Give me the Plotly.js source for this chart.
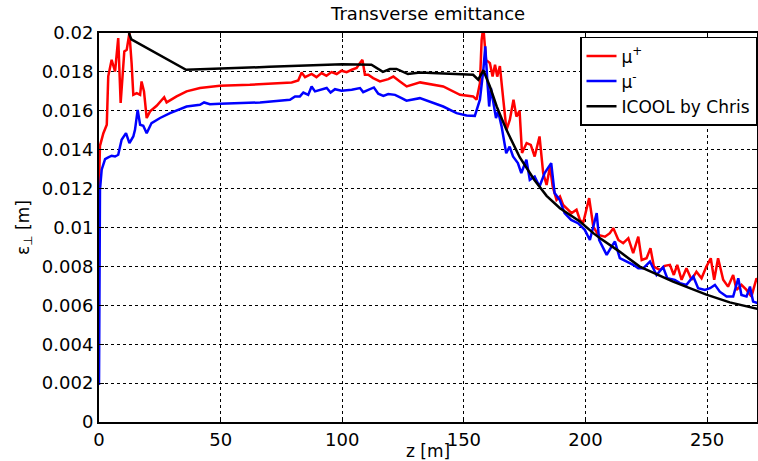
<!DOCTYPE html>
<html>
<head>
<meta charset="utf-8">
<script src="https://cdn.plot.ly/plotly-3.0.1.min.js"></script>
<style>html,body{margin:0;padding:0;background:#fff;}#chart{width:758px;height:461px;}</style>
</head>
<body>
<div id="chart"></div>
<script>
// ---- data (z in m, emittance in m) ----
const muPlusZ = [0, 0.4, 1.8, 3.2, 3.8, 5.2, 6.6, 7.9, 8.9, 10.4, 11.4, 12.5, 13.4, 14.1, 15.5, 16.9, 17.5, 18.5, 19.6, 21, 23.7, 25.1, 26.8, 27.8, 31.9, 36, 41.5, 49.7, 62, 79.2, 81.9, 83.3, 84.7, 87.4, 89.4, 91.5, 93.5, 95.6, 97.7, 99.7, 101.8, 103.9, 105.9, 107.3, 108.3, 109.3, 110.7, 112.7, 115.5, 118.9, 121, 123.7, 126.5, 132, 141.5, 148.4, 153.8, 155.2, 156.6, 157.3, 158, 159.1, 160.7, 161.8, 162.8, 163.7, 164.8, 166.2, 167.5, 168.9, 170.4, 171.6, 172.9, 173.9, 175.8, 177.5, 179.1, 181.1, 182.6, 184, 185.4, 186.5, 188.1, 189.5, 190.8, 194.3, 196.3, 197.7, 199, 201.5, 203.2, 205.2, 208, 210, 211.4, 213.5, 215.5, 217.6, 219.6, 221.7, 223.1, 225.1, 226.7, 228.1, 230.6, 232.6, 234.7, 236.3, 237.7, 239.5, 241.5, 243.6, 245.6, 247.7, 249.7, 251.5, 252.9, 254.5, 256.6, 258.6, 260.7, 262.1, 264.1, 266.2, 268.2, 270.3, 271];
const muPlusEps = [0.0121, 0.0142, 0.01485, 0.01528, 0.01777, 0.01862, 0.01802, 0.01974, 0.0164, 0.01905, 0.01914, 0.0200, 0.01845, 0.01682, 0.01691, 0.01682, 0.01751, 0.0170, 0.01563, 0.01597, 0.01626, 0.01648, 0.0167, 0.01643, 0.01674, 0.0170, 0.01717, 0.01729, 0.01734, 0.01746, 0.01756, 0.01797, 0.01773, 0.0179, 0.01773, 0.01794, 0.0178, 0.01799, 0.01789, 0.01806, 0.01799, 0.01811, 0.0182, 0.01846, 0.01862, 0.01785, 0.01785, 0.01768, 0.01751, 0.01763, 0.01776, 0.01751, 0.01725, 0.01746, 0.01725, 0.01682, 0.01674, 0.01657, 0.01742, 0.01965, 0.0203, 0.01862, 0.01845, 0.01776, 0.01837, 0.01776, 0.0183, 0.01657, 0.01502, 0.01554, 0.01657, 0.0157, 0.0160, 0.01383, 0.01434, 0.01425, 0.01365, 0.01468, 0.0128, 0.01219, 0.01314, 0.01211, 0.01142, 0.01159, 0.01116, 0.01074, 0.01091, 0.01039, 0.01022, 0.01151, 0.01005, 0.00962, 0.00953, 0.00971, 0.00997, 0.00936, 0.00919, 0.00945, 0.00868, 0.00953, 0.00833, 0.00842, 0.00894, 0.00799, 0.00782, 0.00803, 0.00808, 0.00756, 0.00808, 0.00731, 0.0079, 0.00731, 0.00773, 0.00739, 0.00799, 0.00842, 0.00731, 0.00842, 0.00731, 0.00696, 0.00756, 0.00679, 0.00705, 0.00679, 0.00645, 0.00739, 0.0072];

const muMinusZ = [0, 0.4, 1.1, 2.5, 3.8, 5.2, 6.6, 7.9, 9.3, 11.1, 12.5, 14.1, 14.8, 15.9, 16.9, 18.2, 19.6, 21.6, 25.1, 29.2, 36, 41.5, 43.2, 45.6, 49.7, 66.2, 78.5, 80.6, 82.6, 84, 86, 87.4, 88.8, 90.8, 93.6, 95.2, 97, 99.7, 103.9, 107.3, 108.6, 110.7, 113, 114.8, 116.9, 118.9, 121.7, 124.4, 126.4, 131.9, 136, 141.5, 147, 151.1, 154.5, 156.6, 158, 158.8, 159.6, 160.4, 161.1, 162.1, 163.2, 164.1, 165.5, 167.4, 168.8, 170.2, 172.2, 173.6, 175.7, 177.1, 179.1, 181.1, 183.2, 185.9, 187.3, 189.4, 191.4, 194.1, 196.9, 199.7, 201.8, 204.6, 205.6, 207.3, 208.7, 210.7, 212.1, 214.1, 216.9, 219.6, 221.7, 223.7, 226.5, 229.2, 231.9, 233.6, 236.7, 238.8, 241.5, 244.3, 246.3, 249.1, 251.2, 253.2, 255.2, 258, 260.7, 262.8, 264.1, 266.2, 267.6, 268.9, 271];
const muMinusEps = [0.0019, 0.01194, 0.01297, 0.01352, 0.01361, 0.01369, 0.01365, 0.01374, 0.01451, 0.01485, 0.01434, 0.01468, 0.01502, 0.01605, 0.01528, 0.01523, 0.01485, 0.01537, 0.01563, 0.01588, 0.01622, 0.01631, 0.01643, 0.01634, 0.01636, 0.01643, 0.01657, 0.01674, 0.01674, 0.01694, 0.01682, 0.01725, 0.0170, 0.01708, 0.01717, 0.01694, 0.01711, 0.01703, 0.01708, 0.01717, 0.01696, 0.01708, 0.0172, 0.01688, 0.01677, 0.01686, 0.01682, 0.01665, 0.01652, 0.01665, 0.01648, 0.01622, 0.01588, 0.01576, 0.01574, 0.01657, 0.01811, 0.01931, 0.0176, 0.01622, 0.01717, 0.0164, 0.01563, 0.01597, 0.0152, 0.01382, 0.01416, 0.01365, 0.01331, 0.0128, 0.01348, 0.01245, 0.01262, 0.01211, 0.0128, 0.01331, 0.01177, 0.01142, 0.01074, 0.01039, 0.01022, 0.00988, 0.00936, 0.01074, 0.00936, 0.00894, 0.00859, 0.00902, 0.00928, 0.00842, 0.00825, 0.00808, 0.0079, 0.0079, 0.00825, 0.00756, 0.00796, 0.00739, 0.00731, 0.00714, 0.00705, 0.00748, 0.00688, 0.00679, 0.00688, 0.00705, 0.0067, 0.00645, 0.00645, 0.00739, 0.00653, 0.00645, 0.00696, 0.00619, 0.0061];

const icoolZ = [12.3, 13.3, 35.8, 49.5, 70, 100, 112, 116.7, 119.6, 122.3, 127, 132, 140, 153.8, 155.9, 158, 160.7, 163.5, 167.5, 173, 179, 184, 189.5, 197.7, 203.2, 206, 214, 222.3, 236, 249.7, 259.3, 271];
const icoolEps = [0.0200, 0.01967, 0.01811, 0.01816, 0.01826, 0.01839, 0.01837, 0.0180, 0.01815, 0.01815, 0.01789, 0.01797, 0.01794, 0.01785, 0.0176, 0.01808, 0.01725, 0.01622, 0.01502, 0.0136, 0.01244, 0.01163, 0.01099, 0.01031, 0.00971, 0.00945, 0.00876, 0.00799, 0.00722, 0.00655, 0.00615, 0.00581];

const seriesNames = ['μ<sup>+</sup>', 'μ<sup>-</sup>', 'ICOOL by Chris'];
const xTickVals = [0, 50, 100, 150, 200, 250];
const yTickVals = [0, 0.002, 0.004, 0.006, 0.008, 0.01, 0.012, 0.014, 0.016, 0.018, 0.02];
const yTickText = ['0', '0.002', '0.004', '0.006', '0.008', '0.01', '0.012', '0.014', '0.016', '0.018', '0.02'];

const FONT = 'DejaVu Sans, Arial, sans-serif';

const traces = [
  {x: muPlusZ, y: muPlusEps, name: seriesNames[0], mode: 'lines', line: {color: '#ff0000', width: 2.5}},
  {x: muMinusZ, y: muMinusEps, name: seriesNames[1], mode: 'lines', line: {color: '#0000ff', width: 2.5}},
  {x: icoolZ, y: icoolEps, name: seriesNames[2], mode: 'lines', line: {color: '#000000', width: 2.5}}
];

const axisCommon = {
  showline: true, linecolor: '#000', linewidth: 2, mirror: 'ticks',
  ticks: 'inside', ticklen: 5, tickcolor: '#000', tickwidth: 1,
  showgrid: true, gridcolor: '#000', griddash: 'dot', gridwidth: 1,
  zeroline: false, tickfont: {family: FONT, size: 18, color: '#000'}
};

const layout = {
  width: 758, height: 461,
  margin: {l: 99, r: 1, t: 33, b: 39},
  paper_bgcolor: '#fff', plot_bgcolor: '#fff',
  font: {family: FONT, size: 18, color: '#000'},
  title: {text: 'Transverse emittance', font: {family: FONT, size: 18, color: '#000'}, x: 0.5648, xanchor: 'center', y: 0.97, yanchor: 'middle'},
  xaxis: Object.assign({}, axisCommon, {
    range: [0, 270.5], tickvals: xTickVals, ticktext: xTickVals.map(String),
    title: {text: 'z [m]', font: {family: FONT, size: 17, color: '#000'}, standoff: 2}
  }),
  yaxis: Object.assign({}, axisCommon, {
    range: [0, 0.02], tickvals: yTickVals, ticktext: yTickText,
    title: {text: 'ε<sub>⊥</sub> [m]', font: {family: FONT, size: 17, color: '#000'}, standoff: 8}
  }),
  showlegend: true,
  legend: {x: 1, xanchor: 'right', y: 0.99, yanchor: 'top', bgcolor: '#fff', bordercolor: '#000', borderwidth: 1.5,
    font: {family: FONT, size: 17, color: '#000'}, tracegroupgap: 0}
};

Plotly.newPlot('chart', traces, layout, {displayModeBar: false, staticPlot: true});
</script>
</body>
</html>
